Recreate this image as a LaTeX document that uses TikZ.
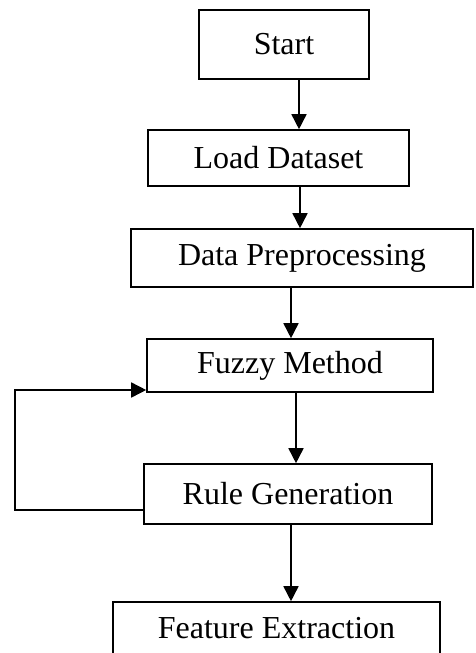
\documentclass[tikz,border=0pt]{standalone}
\usepackage{fontspec}
\setmainfont{Liberation Serif}
\usetikzlibrary{arrows.meta}

\tikzset{
	box/.style={draw, line width=0.8pt, inner sep=0pt, font=\fontsize{16}{19}\selectfont},
	flow/.style={line width=0.8pt, -{Triangle[length=7.5pt,width=7.5pt]}}
}

\begin{document}
\begin{tikzpicture}[x=0.5pt,y=-0.5pt]
		\useasboundingbox (0,0) rectangle (476,653);

		\node [box, minimum width=85pt, minimum height=34.5pt] (start) at (284,44.5) {Start};
		\node [box, minimum width=130.5pt, minimum height=28pt] (load) at (278.5,158) {Load Dataset};
		\node [box, minimum width=171pt, minimum height=29pt] (prep) at (302,258) {Data Preprocessing};
		\node [box, minimum width=143pt, minimum height=26.5pt] (fuzzy) at (290,365.5) {Fuzzy Method};
		\node [box, minimum width=144pt, minimum height=30pt] (rule) at (288,494) {Rule Generation};
		\node [box, minimum width=163.5pt, minimum height=26pt] (feat) at (276.5,628) {Feature Extraction};

		\draw [flow] ([xshift=7.5pt]start.south) -- ([xshift=7.5pt]start.south |- load.north);
		\draw [flow] ([xshift=10.75pt]load.south) -- ([xshift=10.75pt]load.south |- prep.north);
		\draw [flow] ([xshift=-5.5pt]prep.south) -- ([xshift=-5.5pt]prep.south |- fuzzy.north);
		\draw [flow] ([xshift=3pt]fuzzy.south) -- ([xshift=3pt]fuzzy.south |- rule.north);
		\draw [flow] ([xshift=1.5pt]rule.south) -- ([xshift=1.5pt]rule.south |- feat.north);

		\coordinate (back) at (15,390);
		\draw [flow] ([yshift=-8pt]rule.west) -| (back) -- (back -| fuzzy.west);
	\end{tikzpicture}
\end{document}
